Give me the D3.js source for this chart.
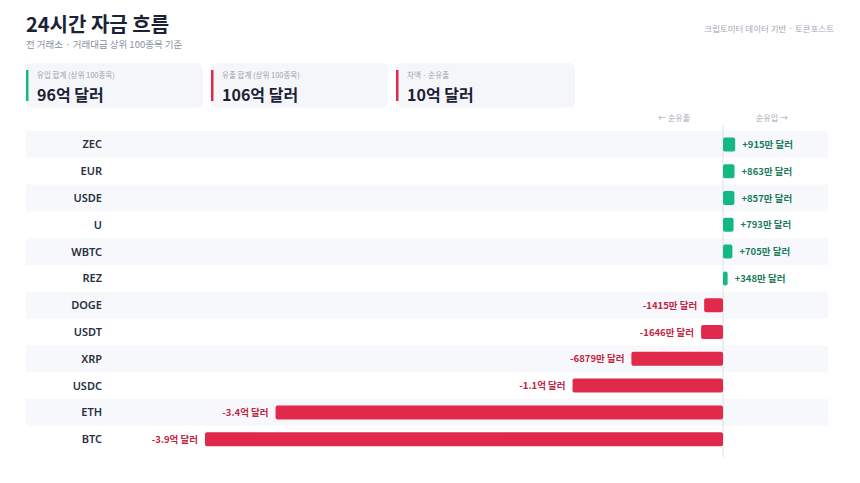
<!DOCTYPE html>
<html>
<head>
<meta charset="utf-8">
<script src="https://cdn.jsdelivr.net/npm/d3@7"></script>
<style>
  html, body { margin: 0; padding: 0; background: #fff; }
  svg { display: block; font-family: "Noto Sans CJK KR", "Noto Sans", sans-serif; }
</style>
</head>
<body>
<svg id="chart"></svg>
<script>
// 순유입/순유출, 단위: 만 달러
const coins = ['ZEC', 'EUR', 'USDE', 'U', 'WBTC', 'REZ', 'DOGE', 'USDT', 'XRP', 'USDC', 'ETH', 'BTC']
const flows = [915, 863, 857, 793, 705, 348, -1415, -1646, -6879, -11300, -33600, -38900]

const cardLabels = ['유입 합계 (상위 100종목)', '유출 합계 (상위 100종목)', '차액 · 순유출']
const cardValues = ['96억 달러', '106억 달러', '10억 달러']
const cardSigns = ['in', 'out', 'out']

const width = 860, height = 483
const green = '#15b882', red = '#e0294b'

const svg = d3.select('#chart').attr('width', width).attr('height', height)

// header
svg.append('text').attr('x', 26).attr('y', 32)
  .attr('font-size', 20).attr('font-weight', 700).attr('fill', '#1b2236')
  .text('24시간 자금 흐름')
svg.append('text').attr('x', 26).attr('y', 48)
  .attr('font-size', 9.5).attr('fill', '#8a90a0')
  .text('전 거래소 · 거래대금 상위 100종목 기준')
svg.append('text').attr('x', 834).attr('y', 32).attr('text-anchor', 'end')
  .attr('font-size', 8.5).attr('fill', '#a3a8b5')
  .text('크립토미터 데이터 기반 · 토큰포스트')

// summary cards
const cards = svg.append('g').selectAll('g')
  .data(cardValues)
  .enter().append('g')
  .attr('transform', (d, i) => `translate(${26 + i * 185}, 63)`)

cards.append('rect')
  .attr('width', (d, i) => i === 2 ? 179 : 177).attr('height', 45).attr('rx', 6)
  .attr('fill', '#f5f6fa')
cards.append('rect')
  .attr('x', 0).attr('y', 7).attr('width', 2.5).attr('height', 31)
  .attr('fill', (d, i) => cardSigns[i] === 'in' ? green : red)
cards.append('text')
  .attr('x', 11).attr('y', 15)
  .attr('font-size', 7.5).attr('fill', '#9ba1ae')
  .text((d, i) => cardLabels[i])
cards.append('text')
  .attr('x', 11).attr('y', 37.5)
  .attr('font-size', 16).attr('font-weight', 700).attr('fill', '#1b2236')
  .text(d => d)

// scales
const x = d3.scaleLinear().domain([-38900, 0]).range([205, 723])
const y = d3.scaleBand().domain(coins).range([131, 131 + 26.8 * coins.length]).padding(0)
const barH = 14

svg.append('text').attr('x', x(0) - 33).attr('y', 121).attr('text-anchor', 'end')
  .attr('font-size', 8).attr('fill', '#a3a8b5').text('← 순유출')
svg.append('text').attr('x', x(0) + 33).attr('y', 121)
  .attr('font-size', 8).attr('fill', '#a3a8b5').text('순유입 →')

// row stripes
svg.append('g').selectAll('rect')
  .data(coins.filter((c, i) => i % 2 === 0))
  .enter().append('rect')
  .attr('x', 26).attr('width', 802)
  .attr('y', d => y(d)).attr('height', y.bandwidth())
  .attr('fill', '#f7f8fb')

// zero line
svg.append('line')
  .attr('x1', x(0)).attr('x2', x(0))
  .attr('y1', 125).attr('y2', 457)
  .attr('stroke', '#dde0e6').attr('stroke-width', 1)

// coin labels
svg.append('g').selectAll('text')
  .data(coins)
  .enter().append('text')
  .attr('x', 102).attr('y', d => y(d) + y.bandwidth() / 2 + 4)
  .attr('text-anchor', 'end')
  .attr('font-family', '"Noto Sans", sans-serif')
  .attr('font-size', 11).attr('font-weight', 600).attr('fill', '#283042')
  .text(d => d)

// bars
const rows = coins.map((c, i) => ({ coin: c, value: flows[i] }))

svg.append('g').selectAll('rect')
  .data(rows)
  .enter().append('rect')
  .attr('x', d => Math.min(x(0), x(d.value)))
  .attr('width', d => Math.abs(x(d.value) - x(0)))
  .attr('y', d => y(d.coin) + (y.bandwidth() - barH) / 2)
  .attr('height', barH)
  .attr('rx', 2)
  .attr('fill', d => d.value >= 0 ? green : red)

function fmt(v) {
  const sign = v >= 0 ? '+' : '-'
  const a = Math.abs(v)
  if (a >= 10000) return sign + (a / 10000).toFixed(1) + '억 달러'
  return sign + a + '만 달러'
}

svg.append('g').selectAll('text')
  .data(rows)
  .enter().append('text')
  .attr('x', d => d.value >= 0 ? x(d.value) + 7 : x(d.value) - 7)
  .attr('y', d => y(d.coin) + y.bandwidth() / 2 + 3.5)
  .attr('text-anchor', d => d.value >= 0 ? 'start' : 'end')
  .attr('font-size', 9.5).attr('font-weight', 700)
  .attr('fill', d => d.value >= 0 ? '#1a7a5c' : '#c2233f')
  .text(d => fmt(d.value))
</script>
</body>
</html>
